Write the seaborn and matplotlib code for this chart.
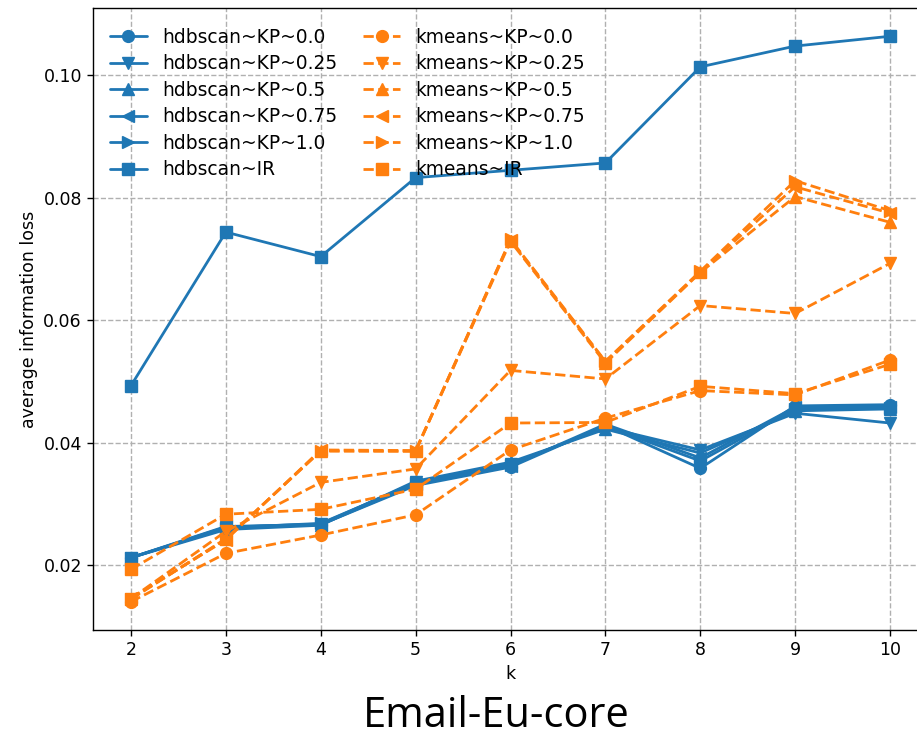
import matplotlib
matplotlib.use("Agg")
import matplotlib.pyplot as plt
import pandas as pd
import seaborn as sns

# k values on the x axis
k_values = [2, 3, 4, 5, 6, 7, 8, 9, 10]

# hdbscan results
hdbscan_kp_00 = [0.0212, 0.0260, 0.0266, 0.0330, 0.0360, 0.0428, 0.0358, 0.0460, 0.0462]
hdbscan_kp_025 = [0.0212, 0.0262, 0.0267, 0.0335, 0.0365, 0.0425, 0.0388, 0.0448, 0.0432]
hdbscan_kp_05 = [0.0212, 0.0258, 0.0265, 0.0337, 0.0368, 0.0422, 0.0383, 0.0452, 0.0455]
hdbscan_kp_075 = [0.0212, 0.0263, 0.0266, 0.0332, 0.0362, 0.0430, 0.0375, 0.0458, 0.0459]
hdbscan_kp_10 = [0.0212, 0.0261, 0.0268, 0.0334, 0.0363, 0.0427, 0.0370, 0.0455, 0.0457]
hdbscan_ir = [0.0493, 0.0744, 0.0704, 0.0833, 0.0845, 0.0857, 0.1014, 0.1048, 0.1064]

# kmeans results
kmeans_kp_00 = [0.0140, 0.0219, 0.0249, 0.0282, 0.0388, 0.0440, 0.0485, 0.0478, 0.0535]
kmeans_kp_025 = [0.0145, 0.0255, 0.0335, 0.0357, 0.0518, 0.0504, 0.0624, 0.0611, 0.0693]
kmeans_kp_05 = [0.0145, 0.0242, 0.0387, 0.0386, 0.0729, 0.0530, 0.0678, 0.0802, 0.0760]
kmeans_kp_075 = [0.0146, 0.0241, 0.0388, 0.0387, 0.0731, 0.0532, 0.0679, 0.0818, 0.0775]
kmeans_kp_10 = [0.0144, 0.0243, 0.0386, 0.0386, 0.0732, 0.0533, 0.0680, 0.0828, 0.0779]
kmeans_ir = [0.0193, 0.0283, 0.0291, 0.0324, 0.0432, 0.0433, 0.0492, 0.0480, 0.0528]

series_names = [
    "hdbscan~KP~0.0", "hdbscan~KP~0.25", "hdbscan~KP~0.5",
    "hdbscan~KP~0.75", "hdbscan~KP~1.0", "hdbscan~IR",
    "kmeans~KP~0.0", "kmeans~KP~0.25", "kmeans~KP~0.5",
    "kmeans~KP~0.75", "kmeans~KP~1.0", "kmeans~IR",
]
series_values = [
    hdbscan_kp_00, hdbscan_kp_025, hdbscan_kp_05, hdbscan_kp_075, hdbscan_kp_10, hdbscan_ir,
    kmeans_kp_00, kmeans_kp_025, kmeans_kp_05, kmeans_kp_075, kmeans_kp_10, kmeans_ir,
]
markers = ["o", "v", "^", "<", ">", "s"] * 2

df = pd.DataFrame(
    [(name, k, v) for name, vals in zip(series_names, series_values) for k, v in zip(k_values, vals)],
    columns=["series", "k", "loss"],
)

sns.set_style("ticks")
plt.rcParams["font.family"] = ["DejaVu Sans"]
plt.rcParams["font.size"] = 12.5
plt.rcParams["text.color"] = "black"
plt.rcParams["axes.labelcolor"] = "black"
plt.rcParams["xtick.color"] = "black"
plt.rcParams["ytick.color"] = "black"

fig = plt.figure(figsize=(9.17, 7.36), dpi=100)
ax = fig.add_axes([93 / 917, 1 - 630 / 736, (928 - 93) / 917, (630 - 8) / 736])

blue, orange = "#1f77b4", "#ff7f0e"
for name, marker in zip(series_names, markers):
    is_h = name.startswith("hdbscan")
    color = blue if is_h else orange
    sns.lineplot(
        data=df[df["series"] == name], x="k", y="loss", ax=ax,
        color=color, marker=marker, markersize=8.5,
        markeredgecolor=color, markeredgewidth=1.0,
        linewidth=2.0, linestyle="-" if is_h else "--",
        label=name, errorbar=None,
    )

ax.set_xlim(1.6, 10.4)
ax.set_xticks(k_values)
ax.grid(True, linestyle="--", color="#b0b0b0", linewidth=1.0)
ax.set_axisbelow(True)
for s in ax.spines.values():
    s.set_color("black")
    s.set_linewidth(1.0)
ax.tick_params(colors="black", labelsize=12.5, length=4.5, width=1.0)
ax.set_xlabel("k", fontsize=12.5)
ax.set_ylabel("average information loss", fontsize=12.5)

ax.legend(loc="upper left", ncol=2, frameon=False, fontsize=13.4,
          bbox_to_anchor=(0.0, 0.995), columnspacing=1.4, labelspacing=0.4)

fig.text(496 / 917, 1 - 727 / 736, "Email-Eu-core", ha="center", va="baseline",
         fontsize=30, color="black", family=["Open Sans", "DejaVu Sans"])

fig.savefig("out.png", dpi=100)
